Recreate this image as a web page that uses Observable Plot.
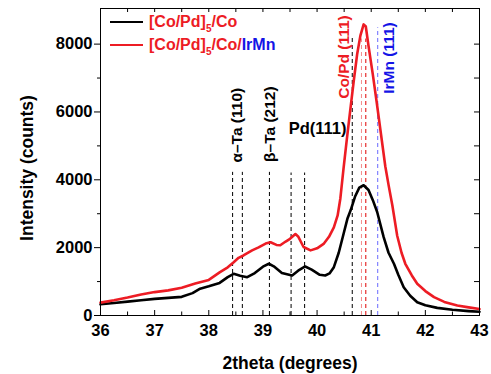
<!DOCTYPE html>
<html><head><meta charset="utf-8">
<script src="https://cdn.jsdelivr.net/npm/d3@7"></script>
<script src="https://cdn.jsdelivr.net/npm/@observablehq/plot@0.6"></script>
<style>
body{margin:0;background:#fff;font-family:"Liberation Sans",Arial,sans-serif;}
#wrap{position:relative;width:491px;height:374px;}
#wrap svg{position:absolute;left:0;top:0;}
.leg{position:absolute;left:110px;height:20px;font-weight:bold;font-size:16px;display:flex;align-items:center;white-space:nowrap;color:#ed1c24;}
.leg .sw{width:33px;height:0;border-top:2.5px solid;margin-right:6px;}
.leg sub{font-size:10px;vertical-align:-5px;line-height:0;}
</style></head><body><div id="wrap"></div>
<script>
// Black series: [Co/Pd]5/Co
const blackX = [36.0,36.25,36.5,36.75,37.0,37.25,37.5,37.7,37.84,38.0,38.2,38.35,38.46,38.58,38.71,38.85,39.0,39.11,39.2,39.35,39.54,39.65,39.78,39.9,40.05,40.15,40.23,40.31,40.4,40.49,40.56,40.62,40.7,40.78,40.86,40.95,41.03,41.11,41.23,41.32,41.42,41.5,41.6,41.72,41.85,42.0,42.22,42.5,42.8,43.0];
const blackY = [330,370,410,450,490,520,550,660,790,860,960,1130,1230,1170,1130,1250,1440,1525,1450,1250,1180,1320,1445,1350,1200,1180,1240,1425,1850,2410,2850,3100,3500,3770,3840,3700,3400,3050,2310,1850,1525,1200,835,580,390,300,225,170,130,110];
// Red series: [Co/Pd]5/Co/IrMn
const redX = [36.0,36.25,36.5,36.75,37.0,37.25,37.5,37.75,38.0,38.2,38.35,38.46,38.55,38.64,38.8,38.92,39.05,39.14,39.25,39.32,39.42,39.5,39.6,39.65,39.75,39.88,40.0,40.12,40.22,40.31,40.38,40.43,40.49,40.55,40.62,40.68,40.74,40.8,40.86,40.9,40.95,41.03,41.1,41.18,41.26,41.32,41.39,41.48,41.56,41.63,41.75,41.85,42.0,42.16,42.35,42.59,42.8,43.0];
const redY = [380,450,530,620,690,740,820,940,1050,1270,1420,1570,1700,1770,1920,2010,2120,2160,2080,2070,2180,2260,2400,2330,2020,1920,1980,2110,2320,2600,2950,3450,4350,5200,6150,6950,7700,8250,8580,8520,7950,7100,6300,5350,4400,3850,3250,2350,1850,1525,1180,935,720,540,400,295,240,190];

// Tick values
const xTicks = [36,37,38,39,40,41,42,43];
const xMinor = [36.5,37.5,38.5,39.5,40.5,41.5,42.5];
const yTicks = [0,2000,4000,6000,8000];
const yMinor = [1000,3000,5000,7000];

// Reference (dashed) lines
const refX = [38.44,38.62,39.12,39.52,39.77,40.65,40.82,40.9,41.12];
const refTop = [4220,4220,4220,4200,4200,8180,8150,8150,8480];
const refColor = ["#000","#000","#000","#000","#000","#000","#f38a8a","#e00000","#6a6aff"];

// Rotated peak labels
const labelText = ["α–Ta (110)","β–Ta (212)","Co/Pd (111)","IrMn (111)"];
const labelX = [38.53,39.14,40.49,41.32];
const labelY = [5610,5640,7620,7590];
const labelColor = ["#000","#000","#ed1c24","#1414e6"];
// Horizontal peak label
const pdText = ["Pd(111)"];
const pdX = [40.01];
const pdY = [5520];

const yMax = 9050;
const idx = a => a.map((_, i) => i);

const chart = Plot.plot({
  width: 491, height: 374,
  marginLeft: 100, marginRight: 12, marginTop: 8, marginBottom: 59,
  x: {domain: [36, 43]},
  y: {domain: [0, yMax]},
  color: {type: "identity"},
  style: {fontFamily: "Liberation Sans, Arial, sans-serif", fontSize: "16.5px", fontWeight: "bold", background: "#fff", color: "#000"},
  marks: [
    Plot.ruleX(idx(refX), {x: i => refX[i], y1: 0, y2: i => refTop[i], stroke: i => refColor[i], strokeDasharray: "4,3", strokeWidth: 1}),
    Plot.line(idx(blackX), {x: i => blackX[i], y: i => blackY[i], stroke: "#000", strokeWidth: 2.6}),
    Plot.line(idx(redX), {x: i => redX[i], y: i => redY[i], stroke: "#ed1c24", strokeWidth: 2.6}),
    Plot.text(idx(labelText), {x: i => labelX[i], y: i => labelY[i], text: i => labelText[i], rotate: -90, fill: i => labelColor[i], fontSize: 15.5, fontWeight: "bold", textAnchor: "middle", lineAnchor: "middle"}),
    Plot.text(idx(pdText), {x: i => pdX[i], y: i => pdY[i], text: i => pdText[i], fill: "#000", fontSize: 16.5, fontWeight: "bold", textAnchor: "middle", lineAnchor: "middle"}),
    // inward ticks bottom/top/right, outward minor left
    Plot.ruleX(xTicks, {x: d => d, y1: 0, y2: 0, insetTop: -5, stroke: "#000"}),
    Plot.ruleX(xMinor, {x: d => d, y1: 0, y2: 0, insetTop: -3.5, stroke: "#000"}),
    Plot.ruleX(xTicks.concat(xMinor), {x: d => d, y1: yMax, y2: yMax, insetBottom: -4, stroke: "#000"}),
    Plot.ruleY(yTicks.concat(yMinor), {y: d => d, x1: 43, x2: 43, insetLeft: -5, stroke: "#000"}),
    Plot.ruleY(yMinor, {y: d => d, x1: 36, x2: 36, insetLeft: -3, stroke: "#000"}),
    Plot.axisX({ticks: xTicks, tickSize: 0, tickPadding: 9, label: null, fontSize: 16.5, fontWeight: "bold", tickFormat: d => String(d)}),
    Plot.axisY({ticks: yTicks, tickSize: 6, tickPadding: 2, label: null, fontSize: 16.5, fontWeight: "bold", tickFormat: d => String(d)}),
    Plot.frame({stroke: "#000"}),
    Plot.text(["Intensity (counts)"], {frameAnchor: "left", dx: -73, dy: 6, rotate: -90, fontSize: 17.5, fontWeight: "bold", textAnchor: "middle", lineAnchor: "middle"}),
    Plot.text(["2theta (degrees)"], {frameAnchor: "bottom", dy: 48, fontSize: 17.5, fontWeight: "bold", textAnchor: "middle", lineAnchor: "middle"})
  ]
});
const wrap = document.getElementById("wrap");
wrap.appendChild(chart);

// Legend
const legendItems = [
  {color: "#000", top: 11.7, html: '[Co/Pd]<sub>5</sub>/Co'},
  {color: "#ed1c24", top: 35, html: '[Co/Pd]<sub>5</sub>/Co/<span style="color:#1414e6">IrMn</span>'}
];
for (const it of legendItems) {
  const row = document.createElement("div");
  row.className = "leg";
  row.style.top = it.top + "px";
  row.innerHTML = `<span class="sw" style="border-color:${it.color}"></span><span>${it.html}</span>`;
  wrap.appendChild(row);
}
</script>
</body></html>
